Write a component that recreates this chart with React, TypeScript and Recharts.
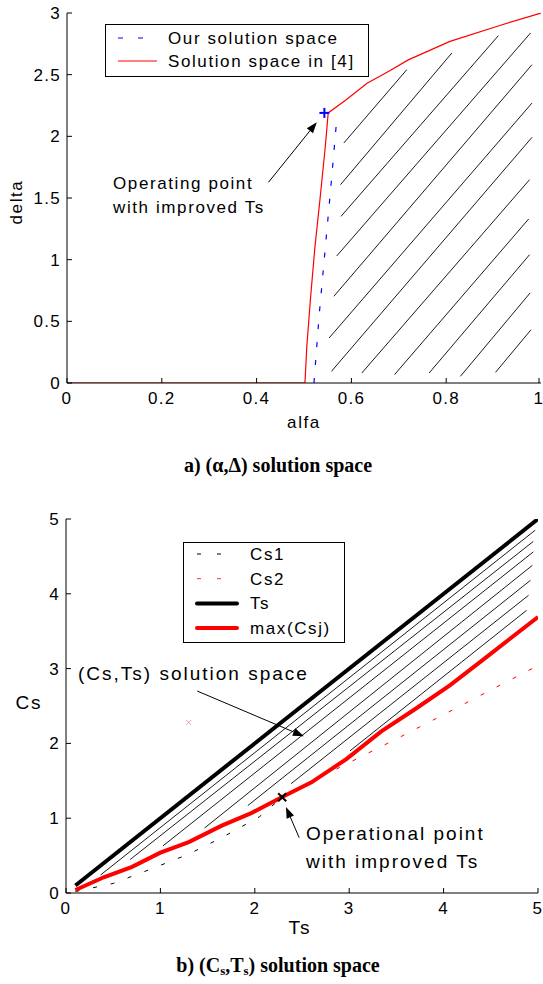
import React from "react";
import {
  ComposedChart,
  Line,
  Scatter,
  XAxis,
  YAxis,
  ReferenceLine,
  Legend,
} from "recharts";

// ---------- a) (alfa, delta) ----------
const alfaTicks = [0, 0.2, 0.4, 0.6, 0.8, 1];
const deltaTicks = [0, 0.5, 1, 1.5, 2, 2.5, 3];

// Solution space in [4]
const refAlfa = [0, 0.502, 0.506, 0.514, 0.523, 0.534, 0.545, 0.551, 0.589, 0.633, 0.68, 0.72, 0.808, 0.918, 1.0];
const refDelta = [0, 0, 0.3, 0.7, 1.1, 1.5, 1.92, 2.19, 2.297, 2.43, 2.53, 2.62, 2.77, 2.905, 3.0];

// Our solution space
const ourAlfa = [0.521, 0.532, 0.545, 0.558, 0.57];
const ourDelta = [0, 0.55, 1.1, 1.65, 2.18];

// operating point (+)
const opAlfa = [0.543];
const opDelta = [2.19];

// hatching [x1, y1, x2, y2]
const hatchA = [
  [0.584, 1.946, 0.717, 2.541],
  [0.577, 1.608, 0.812, 2.676],
  [0.578, 1.351, 0.91, 2.816],
  [0.569, 1.03, 0.978, 2.838],
  [0.563, 0.703, 0.981, 2.581],
  [0.553, 0.365, 0.981, 2.27],
  [0.558, 0.095, 0.981, 1.992],
  [0.622, 0.081, 0.976, 1.649],
  [0.691, 0.068, 0.974, 1.33],
  [0.764, 0.081, 0.976, 1.041],
  [0.83, 0.054, 0.977, 0.73],
  [0.904, 0.086, 0.979, 0.432],
];
const arrowA = [0.425, 1.627, 0.527, 2.114];

// ---------- b) (Cs, Ts) ----------
const tsTicks = [0, 1, 2, 3, 4, 5];
const csTicks = [0, 1, 2, 3, 4, 5];

const tsX = [0.1, 5];
const tsY = [0.1, 5];

const maxX = [0.1, 0.4, 0.7, 1.0, 1.3, 1.65, 1.95, 2.3, 2.6, 2.97, 3.34, 3.7, 4.07, 4.44, 5.0];
const maxY = [0.04, 0.21, 0.35, 0.54, 0.68, 0.9, 1.06, 1.29, 1.48, 1.79, 2.16, 2.46, 2.78, 3.14, 3.69];

const cs1X = [0.1, 0.5, 0.92, 1.3, 1.65, 2.05, 2.3, 2.6, 2.97, 3.34, 3.7, 4.07, 4.44, 5.0];
const cs1Y = [0.02, 0.128, 0.33, 0.52, 0.74, 1.02, 1.29, 1.48, 1.79, 2.16, 2.46, 2.78, 3.14, 3.69];

const cs2X = [0.1, 0.4, 0.7, 1.0, 1.3, 1.65, 1.95, 2.3, 2.9, 3.5, 4.1, 4.6, 5.0];
const cs2Y = [0.04, 0.21, 0.35, 0.54, 0.68, 0.9, 1.06, 1.29, 1.68, 2.06, 2.45, 2.78, 3.04];

const opTs = [2.29];
const opCs = [1.28];
const strayTs = [1.3];
const strayCs = [2.28];

const hatchB = [
  [0.367, 0.242, 4.97, 4.85],
  [0.679, 0.447, 4.95, 4.7],
  [1.027, 0.63, 4.95, 4.56],
  [1.467, 0.868, 4.94, 4.38],
  [1.926, 1.169, 4.92, 4.18],
  [2.384, 1.461, 4.9, 3.98],
  [3.008, 1.9, 4.88, 3.78],
];
const arrowB1 = [1.39, 2.7, 2.52, 2.095];
const arrowB2 = [2.47, 0.74, 2.33, 1.15];

const SANS = '"Liberation Sans", Arial, sans-serif';
const SERIF = '"Liberation Serif", "Times New Roman", serif';

const zip = (xs: number[], ys: number[]) => xs.map((x, i) => ({ x, y: ys[i] }));

const XTick = (props: any) => {
  const { x, y, payload } = props;
  return (
    <g>
      <line x1={x} y1={y} x2={x} y2={y - 5} stroke="#000" />
      <text x={x} y={y + 21} textAnchor="middle" fontSize={17} fontFamily={SANS} fill="#000" letterSpacing={1.3}>
        {payload.value}
      </text>
    </g>
  );
};

const YTick = (props: any) => {
  const { x, y, payload } = props;
  return (
    <g>
      <line x1={x} y1={y} x2={x + 5} y2={y} stroke="#000" />
      <text x={x - 6} y={y + 6} textAnchor="end" fontSize={17} fontFamily={SANS} fill="#000" letterSpacing={1.3}>
        {payload.value}
      </text>
    </g>
  );
};

const arrowShape = (props: any) => {
  const { x1, y1, x2, y2 } = props;
  const a = Math.atan2(y2 - y1, x2 - x1);
  const L = 11;
  const W = 4;
  const bx = x2 - L * Math.cos(a);
  const by = y2 - L * Math.sin(a);
  const px = -Math.sin(a) * W;
  const py = Math.cos(a) * W;
  return (
    <g>
      <line x1={x1} y1={y1} x2={bx} y2={by} stroke="#000" strokeWidth={1} />
      <polygon points={`${x2},${y2} ${bx + px},${by + py} ${bx - px},${by - py}`} fill="#000" />
    </g>
  );
};

const plusShape = (props: any) => {
  const { cx, cy } = props;
  return (
    <g stroke="#0000ff" strokeWidth={2}>
      <line x1={cx - 5} y1={cy} x2={cx + 5} y2={cy} />
      <line x1={cx} y1={cy - 5} x2={cx} y2={cy + 5} />
    </g>
  );
};

const crossShape = (color: string, r: number, w: number) => (props: any) => {
  const { cx, cy } = props;
  return (
    <g stroke={color} strokeWidth={w}>
      <line x1={cx - r} y1={cy - r} x2={cx + r} y2={cy + r} />
      <line x1={cx - r} y1={cy + r} x2={cx + r} y2={cy - r} />
    </g>
  );
};

type LegendItem = { label: string; color: string; width: number; dash?: string };

const legendA: LegendItem[] = [
  { label: "Our solution space", color: "#0000ff", width: 1.2, dash: "5 15" },
  { label: "Solution space in [4]", color: "#ff0000", width: 1 },
];
const legendB: LegendItem[] = [
  { label: "Cs1", color: "#000", width: 1, dash: "4 16" },
  { label: "Cs2", color: "#ff3030", width: 1, dash: "4 16" },
  { label: "Ts", color: "#000", width: 4 },
  { label: "max(Csj)", color: "#ff0000", width: 4 },
];

const legendBox = (items: LegendItem[], w: number, h: number, rowTop: number, rowGap: number, lx1: number, lx2: number, tx: number) => () => (
  <svg width={w} height={h} style={{ display: "block" }}>
    <rect x={0.5} y={0.5} width={w - 1} height={h - 1} fill="#fff" stroke="#000" />
    {items.map((it, i) => (
      <g key={it.label}>
        <line
          x1={lx1}
          x2={lx2}
          y1={rowTop + i * rowGap}
          y2={rowTop + i * rowGap}
          stroke={it.color}
          strokeWidth={it.width}
          strokeDasharray={it.dash}
          strokeLinecap={it.width > 2 ? "round" : "butt"}
        />
        <text x={tx} y={rowTop + i * rowGap + 6} fontSize={17} fontFamily={SANS} letterSpacing={1.6} fill="#000">
          {it.label}
        </text>
      </g>
    ))}
  </svg>
);

const abs = (left: number, top: number, extra: React.CSSProperties = {}): React.CSSProperties => ({
  position: "absolute",
  left,
  top,
  whiteSpace: "nowrap",
  fontFamily: SANS,
  fontSize: 17,
  letterSpacing: 1.6,
  lineHeight: "20px",
  color: "#000",
  ...extra,
});

const bigText = { fontSize: 19, letterSpacing: 2, lineHeight: "22px" };
const titleText = { transform: "translateX(-50%)", fontFamily: SERIF, fontWeight: "bold", fontSize: 20, letterSpacing: 0 };

export default function App() {
  return (
    <div style={{ position: "relative", width: 543, height: 984, background: "#fff", overflow: "hidden" }}>
      <style>{`body{margin:0}`}</style>

      {/* a) */}
      <div style={{ position: "absolute", left: 0, top: 0 }}>
        <ComposedChart width={543} height={420} margin={{ top: 13, right: 2, bottom: 7, left: 0 }}>
          <XAxis
            dataKey="x"
            type="number"
            domain={[0, 1]}
            ticks={alfaTicks}
            allowDataOverflow
            tickLine={false}
            tickSize={0}
            tickMargin={0}
            height={30}
            axisLine={{ stroke: "#000" }}
            tick={<XTick />}
          />
          <YAxis
            dataKey="y"
            type="number"
            domain={[0, 3]}
            ticks={deltaTicks}
            allowDataOverflow
            tickLine={false}
            tickSize={0}
            tickMargin={0}
            width={67}
            axisLine={{ stroke: "#000" }}
            tick={<YTick />}
          />
          {hatchA.map((s, i) => (
            <ReferenceLine
              key={`ha-${i}`}
              segment={[{ x: s[0], y: s[1] }, { x: s[2], y: s[3] }]}
              stroke="#000"
              strokeWidth={0.9}
            />
          ))}
          <Line
            data={zip(ourAlfa, ourDelta)}
            dataKey="y"
            stroke="#0000ff"
            strokeWidth={1.2}
            strokeDasharray="5 13"
            dot={false}
            activeDot={false}
            isAnimationActive={false}
          />
          <Line
            data={zip(refAlfa, refDelta)}
            dataKey="y"
            stroke="#ff0000"
            strokeWidth={1.2}
            dot={false}
            activeDot={false}
            isAnimationActive={false}
          />
          <Scatter data={zip(opAlfa, opDelta)} dataKey="y" shape={plusShape} isAnimationActive={false} />
          <ReferenceLine
            segment={[{ x: arrowA[0], y: arrowA[1] }, { x: arrowA[2], y: arrowA[3] }]}
            shape={arrowShape}
          />
          <Legend
            layout="vertical"
            align="center"
            verticalAlign="middle"
            wrapperStyle={{ left: 105, top: 24, width: 264 }}
            content={legendBox(legendA, 264, 53, 14, 23, 13, 52, 63)}
          />
        </ComposedChart>
      </div>

      <div style={abs(113, 174)}>Operating point</div>
      <div style={abs(113, 198)}>with improved Ts</div>
      <div style={abs(17, 202, { transform: "translate(-50%,-50%) rotate(-90deg)" })}>delta</div>
      <div style={abs(304, 413, { transform: "translateX(-50%)" })}>alfa</div>
      <div style={abs(278, 455, titleText)}>a) (α,Δ) solution space</div>

      {/* b) */}
      <div style={{ position: "absolute", left: 0, top: 500 }}>
        <ComposedChart width={543} height={420} margin={{ top: 19, right: 5, bottom: 0, left: 0 }}>
          <XAxis
            dataKey="x"
            type="number"
            domain={[0, 5]}
            ticks={tsTicks}
            allowDataOverflow
            tickLine={false}
            tickSize={0}
            tickMargin={0}
            height={27}
            axisLine={{ stroke: "#000" }}
            tick={<XTick />}
          />
          <YAxis
            dataKey="y"
            type="number"
            domain={[0, 5]}
            ticks={csTicks}
            allowDataOverflow
            tickLine={false}
            tickSize={0}
            tickMargin={0}
            width={66}
            axisLine={{ stroke: "#000" }}
            tick={<YTick />}
          />
          {hatchB.map((s, i) => (
            <ReferenceLine
              key={`hb-${i}`}
              segment={[{ x: s[0], y: s[1] }, { x: s[2], y: s[3] }]}
              stroke="#000"
              strokeWidth={0.9}
            />
          ))}
          <Line
            data={zip(cs1X, cs1Y)}
            dataKey="y"
            stroke="#000"
            strokeWidth={1}
            strokeDasharray="4 14"
            dot={false}
            activeDot={false}
            isAnimationActive={false}
          />
          <Line
            data={zip(cs2X, cs2Y)}
            dataKey="y"
            stroke="#ff0000"
            strokeWidth={1}
            strokeDasharray="4 14"
            dot={false}
            activeDot={false}
            isAnimationActive={false}
          />
          <Line
            data={zip(tsX, tsY)}
            dataKey="y"
            stroke="#000"
            strokeWidth={4}
            dot={false}
            activeDot={false}
            isAnimationActive={false}
          />
          <Line
            data={zip(maxX, maxY)}
            dataKey="y"
            stroke="#ff0000"
            strokeWidth={4}
            dot={false}
            activeDot={false}
            isAnimationActive={false}
          />
          <Scatter data={zip(opTs, opCs)} dataKey="y" shape={crossShape("#000", 4, 2)} isAnimationActive={false} />
          <Scatter data={zip(strayTs, strayCs)} dataKey="y" shape={crossShape("#f4a0a0", 2.5, 1)} isAnimationActive={false} />
          <ReferenceLine
            segment={[{ x: arrowB1[0], y: arrowB1[1] }, { x: arrowB1[2], y: arrowB1[3] }]}
            shape={arrowShape}
          />
          <ReferenceLine
            segment={[{ x: arrowB2[0], y: arrowB2[1] }, { x: arrowB2[2], y: arrowB2[3] }]}
            shape={arrowShape}
          />
          <Legend
            layout="vertical"
            align="center"
            verticalAlign="middle"
            wrapperStyle={{ left: 183, top: 42, width: 162 }}
            content={legendBox(legendB, 162, 101, 12, 24.7, 14, 54, 67)}
          />
        </ComposedChart>
      </div>

      <div style={abs(78, 663, bigText)}>(Cs,Ts) solution space</div>
      <div style={abs(306, 823, bigText)}>Operational point</div>
      <div style={abs(306, 851, bigText)}>with improved Ts</div>
      <div style={abs(29, 703, { ...bigText, transform: "translate(-50%,-50%)" })}>Cs</div>
      <div style={abs(300, 917, { ...bigText, transform: "translateX(-50%)" })}>Ts</div>
      <div style={abs(278, 955, titleText)}>
        b) (C<span style={{ fontSize: 13, position: "relative", top: 3 }}>s</span>,T
        <span style={{ fontSize: 13, position: "relative", top: 3 }}>s</span>) solution space
      </div>
    </div>
  );
}
